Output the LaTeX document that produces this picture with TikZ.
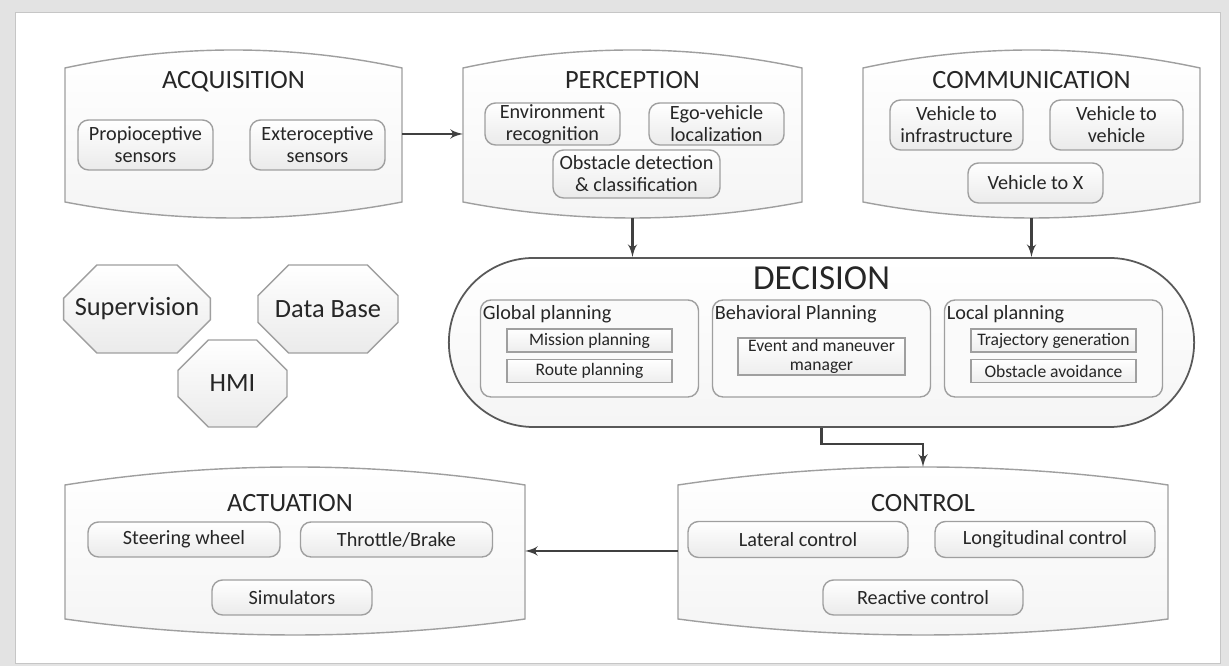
\documentclass[tikz,border=0pt]{standalone}
\usepackage{fontspec}
\setmainfont{Carlito}
\usepackage{tikz}
\usetikzlibrary{shapes, arrows, positioning, calc}
\pgfdeclarelayer{bg}
\pgfsetlayers{bg,main}
\tikzstyle{panel} = [rectangle, minimum width=6.74cm, minimum height=3.36cm, inner sep=0pt, outer sep=0pt]
\tikzstyle{barrel} = [draw=gray!75, line width=0.8pt, top color=white, bottom color=gray!8]
\tikzstyle{heading} = [font=\fontsize{15}{17}\selectfont, text=black!85, inner sep=1pt]
\tikzstyle{unit} = [rectangle, rounded corners=6pt, draw=gray!75, line width=0.8pt, top color=white, bottom color=gray!16, align=center, font=\fontsize{11.5}{12.5}\selectfont, text=black!85, inner sep=0pt, minimum width=2.7cm, minimum height=1cm]
\tikzstyle{plangroup} = [rectangle, rounded corners=6pt, draw=gray!75, line width=0.8pt, fill=gray!4, minimum width=4.36cm, minimum height=1.94cm, inner sep=0pt]
\tikzstyle{grouptitle} = [anchor=north west, font=\fontsize{11.5}{12.5}\selectfont, text=black!85, inner sep=1pt]
\tikzstyle{planitem} = [rectangle, draw=gray!75, line width=0.8pt, top color=white, bottom color=gray!14, minimum width=3.3cm, minimum height=0.46cm, inner sep=0pt, align=center, font=\fontsize{10}{11}\selectfont, text=black!85]
\tikzstyle{octo} = [chamfered rectangle, chamfered rectangle xsep=0.44cm, chamfered rectangle ysep=0.44cm, draw=gray!75, line width=0.8pt, top color=white, bottom color=gray!16, font=\fontsize{15}{17}\selectfont, text=black!85, inner sep=0pt]
\tikzstyle{line} = [draw=black!75, -latex', line width=1.5pt]
\begin{document}
\begin{tikzpicture}
    \useasboundingbox (0,0) rectangle (24.58,13.32);

    % top row
    \node[panel] at (4.67,10.64) (acq) {};
    \node[heading] at ($(acq.center)+(0,1.04)$) (acqtitle) {ACQUISITION};
    \node[unit] at ($(acq.center)+(-1.76,-0.22)$) (propio) {Propioceptive\\sensors};
    \node[unit] at ($(acq.center)+(1.68,-0.22)$) (extero) {Exteroceptive\\sensors};

    \node[panel, minimum width=6.78cm] at (12.65,10.64) (perc) {};
    \node[heading] at ($(perc.center)+(0,1.08)$) (perctitle) {PERCEPTION};
    \node[unit, minimum height=0.84cm] at ($(perc.center)+(-1.6,0.2)$) (envrec) {Environment\\recognition};
    \node[unit, minimum height=0.84cm] at ($(perc.center)+(1.68,0.2)$) (egoloc) {Ego-vehicle\\localization};
    \node[unit, minimum width=3.34cm, minimum height=0.96cm] at ($(perc.center)+(0.08,-0.8)$) (obstdet) {Obstacle detection\\\& classification};

    \node[panel] at (20.63,10.64) (comm) {};
    \node[heading] at ($(comm.center)+(0,1.08)$) (commtitle) {COMMUNICATION};
    \node[unit, minimum width=2.66cm] at ($(comm.center)+(-1.5,0.18)$) (vtoi) {Vehicle to\\infrastructure};
    \node[unit, minimum width=2.66cm] at ($(comm.center)+(1.7,0.18)$) (vtov) {Vehicle to\\vehicle};
    \node[unit, minimum height=0.8cm] at ($(comm.center)+(0.08,-0.98)$) (vtox) {Vehicle to X};

    % middle
    \node[octo, minimum width=2.8cm, minimum height=1.76cm] at (2.74,7.14) (superv) {Supervision};
    \node[octo, minimum width=2.8cm, minimum height=1.76cm] at (6.56,7.14) (database) {Data Base};
    \node[octo, minimum width=2.18cm, minimum height=1.74cm] at (4.65,5.65) (hmi) {HMI};

    \node[rounded rectangle, draw=black!65, line width=1pt, top color=white, bottom color=gray!8, minimum width=15.14cm, minimum height=3.38cm] at (16.43,6.47) (dec) {};
    \node[font=\fontsize{20}{22}\selectfont, text=black!85, inner sep=1pt] at ($(dec.center)+(0,1.29)$) (dectitle) {DECISION};

    \node[plangroup] at ($(dec.center)+(-4.64,-0.12)$) (glob) {};
    \node[grouptitle] at ($(glob.north west)+(0.02,-0.08)$) (globtitle) {Global planning};
    \node[planitem] at ($(glob.center)+(0,0.16)$) (mission) {Mission planning};
    \node[planitem] at ($(glob.center)+(0,-0.45)$) (route) {Route planning};

    \node[plangroup] at ($(dec.center)+(0,-0.12)$) (behav) {};
    \node[grouptitle] at ($(behav.north west)+(0.02,-0.08)$) (behavtitle) {Behavioral Planning};
    \node[planitem, minimum width=3.34cm, minimum height=0.74cm] at ($(behav.center)+(0,-0.16)$) (event) {Event and maneuver\\manager};

    \node[plangroup] at ($(dec.center)+(4.64,-0.12)$) (local) {};
    \node[grouptitle] at ($(local.north west)+(0.02,-0.08)$) (localtitle) {Local planning};
    \node[planitem] at ($(local.center)+(0,0.16)$) (traj) {Trajectory generation};
    \node[planitem] at ($(local.center)+(0,-0.45)$) (avoid) {Obstacle avoidance};

    % bottom row
    \node[panel, minimum width=9.2cm] at (5.9,2.3) (act) {};
    \node[heading] at ($(act.center)+(-0.1,0.96)$) (acttitle) {ACTUATION};
    \node[unit, minimum width=3.84cm, minimum height=0.7cm] at ($(act.center)+(-2.22,0.23)$) (steer) {Steering wheel};
    \node[unit, minimum width=3.84cm, minimum height=0.7cm] at ($(act.center)+(2.03,0.23)$) (throttle) {Throttle/Brake};
    \node[unit, minimum width=3.2cm, minimum height=0.7cm] at ($(act.center)+(-0.06,-0.93)$) (simul) {Simulators};

    \node[panel, minimum width=9.8cm] at (18.46,2.3) (ctrl) {};
    \node[heading] at ($(ctrl.center)+(0,0.96)$) (ctrltitle) {CONTROL};
    \node[unit, minimum width=4.4cm, minimum height=0.72cm] at ($(ctrl.center)+(-2.5,0.23)$) (lateral) {Lateral control};
    \node[unit, minimum width=4.4cm, minimum height=0.72cm] at ($(ctrl.center)+(2.44,0.23)$) (longit) {Longitudinal control};
    \node[unit, minimum width=4cm, minimum height=0.7cm] at ($(ctrl.center)+(0,-0.93)$) (reactive) {Reactive control};

    \begin{pgfonlayer}{bg}
        \fill[gray!22] (0,0) rectangle (24.58,13.32);
        \draw[gray!45, fill=white] (0.3,0.06) rectangle (24.4,13.08);
        \foreach \p in {acq,perc,comm,act,ctrl}
            \draw[barrel] ($(\p.north west)+(0,-0.36)$) parabola bend (\p.north) ($(\p.north east)+(0,-0.36)$)
                -- ($(\p.south east)+(0,0.32)$) parabola bend (\p.south) ($(\p.south west)+(0,0.32)$) -- cycle;
    \end{pgfonlayer}

    \draw[line] (acq) -- (perc);
    \draw[line] (perc.south) -- (perc.south |- dec.north);
    \draw[line] (comm.south) -- (comm.south |- dec.north);
    \draw[line] (dec.south) -- ++(0,-0.32) -| (ctrl.north);
    \draw[line] (ctrl) -- (act);

\end{tikzpicture}
\end{document}
